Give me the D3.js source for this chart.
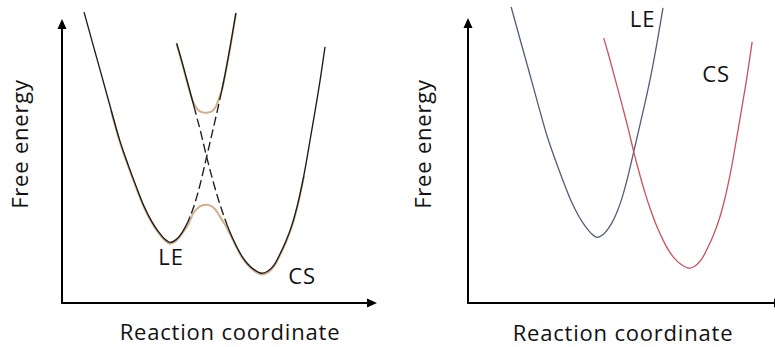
<!DOCTYPE html>
<html>
<head>
<meta charset="utf-8">
<script src="https://cdn.jsdelivr.net/npm/d3@7"></script>
<style>
  html, body { margin: 0; padding: 0; background: #fff; }
  svg { display: block; }
  text { font-family: "Open Sans", sans-serif; fill: #111; letter-spacing: 0.8px; }
</style>
</head>
<body>
<svg id="chart" width="775" height="347"></svg>
<script>
// Diabatic free-energy curves: [reaction coordinate, free energy]
const leCurve = [
  [0.70, 10.28], [0.98, 9.15], [1.27, 7.99], [1.56, 6.82], [1.84, 5.72], [2.10, 4.88],
  [2.35, 4.13], [2.60, 3.43], [2.86, 2.86], [3.05, 2.54], [3.24, 2.28], [3.43, 2.14],
  [3.62, 2.24], [3.81, 2.49], [4.00, 2.88], [4.19, 3.43], [4.38, 4.17], [4.59, 5.16],
  [4.76, 5.97], [4.95, 6.89], [5.14, 7.88], [5.33, 9.01], [5.52, 10.25]
];
const csCurve = [
  [3.64, 9.18], [3.81, 8.52], [4.00, 7.74], [4.22, 6.82], [4.41, 6.01], [4.59, 5.17],
  [4.76, 4.45], [4.95, 3.71], [5.14, 3.07], [5.33, 2.51], [5.52, 2.05], [5.71, 1.66],
  [5.90, 1.38], [6.10, 1.18], [6.34, 1.05], [6.54, 1.13], [6.73, 1.34], [6.92, 1.73],
  [7.11, 2.19], [7.30, 2.76], [7.49, 3.53], [7.68, 4.52], [7.87, 5.72], [8.06, 6.96],
  [8.19, 7.84], [8.35, 9.05]
];
// Adiabatic (coupled) surfaces: lower and upper branch
const lowerAdiabatic = [
  [1.56, 6.82], [1.84, 5.72], [2.10, 4.88], [2.35, 4.13], [2.60, 3.43], [2.86, 2.86],
  [3.05, 2.54], [3.24, 2.28], [3.43, 2.14], [3.62, 2.24], [3.81, 2.49], [4.00, 2.81],
  [4.16, 3.20], [4.32, 3.41], [4.46, 3.50], [4.59, 3.52], [4.73, 3.48], [4.86, 3.36],
  [4.98, 3.16], [5.11, 2.93], [5.24, 2.69], [5.40, 2.33], [5.52, 2.05], [5.71, 1.66],
  [5.90, 1.38], [6.10, 1.18], [6.34, 1.05], [6.54, 1.13], [6.73, 1.34], [6.92, 1.73],
  [7.11, 2.19], [7.30, 2.76], [7.49, 3.53], [7.68, 4.52]
];
const upperAdiabatic = [
  [3.64, 9.18], [3.81, 8.52], [4.00, 7.74], [4.16, 7.16], [4.29, 6.91], [4.41, 6.80],
  [4.59, 6.77], [4.76, 6.82], [4.89, 7.00], [4.98, 7.28], [5.08, 7.58], [5.14, 7.88],
  [5.33, 9.01], [5.52, 10.25]
];
// Stretch of each diabatic curve drawn dashed (between the two adiabatic branches)
const leDashed = [4.06, 5.05];
const csDashed = [4.22, 5.24];

const stateNames = ["LE", "CS"];
const axisTitles = ["Reaction coordinate", "Free energy"];

const svg = d3.select("#chart");

// Each panel has its own scales; the axes start at the lower-left of the range
const panels = [
  { x: d3.scaleLinear().domain([0, 10]).range([62, 377]),
    y: d3.scaleLinear().domain([0, 10]).range([303, 20]),
    xAxisEnd: 377, yAxisTop: 19 },
  { x: d3.scaleLinear().domain([-0.67, 9.33]).range([468, 783]),
    y: d3.scaleLinear().domain([-0.18, 9.82]).range([303, 20]),
    xAxisEnd: 784, yAxisTop: 18 }
];

const defs = svg.append("defs");

function lineFor(p) {
  return d3.line().x(d => p.x(d[0])).y(d => p.y(d[1])).curve(d3.curveCatmullRom.alpha(0.5));
}

function drawAxes(g, p) {
  const x0 = p.x.range()[0], y0 = p.y.range()[0];
  g.append("line").attr("x1", x0).attr("y1", y0).attr("x2", x0).attr("y2", p.yAxisTop + 8)
    .attr("stroke", "#000").attr("stroke-width", 2);
  g.append("path")
    .attr("d", `M${x0},${p.yAxisTop} L${x0 - 4.5},${p.yAxisTop + 10} L${x0 + 4.5},${p.yAxisTop + 10} Z`)
    .attr("fill", "#000");
  g.append("line").attr("x1", x0 - 1).attr("y1", y0).attr("x2", p.xAxisEnd - 8).attr("y2", y0)
    .attr("stroke", "#000").attr("stroke-width", 2);
  g.append("path")
    .attr("d", `M${p.xAxisEnd},${y0} L${p.xAxisEnd - 10},${y0 - 4.5} L${p.xAxisEnd - 10},${y0 + 4.5} Z`)
    .attr("fill", "#000");
}

// ---- Left panel: coupled states ----
const pL = panels[0];
const gL = svg.append("g");
drawAxes(gL, pL);
const lineL = lineFor(pL);

// adiabatic surfaces in tan, sitting just under the diabatic lines
gL.selectAll("path.adiabatic")
  .data([lowerAdiabatic, upperAdiabatic])
  .join("path")
  .attr("class", "adiabatic")
  .attr("d", lineL)
  .attr("transform", "translate(0,1.3)")
  .attr("fill", "none")
  .attr("stroke", "#d3b08a")
  .attr("stroke-width", 2)
  .attr("stroke-linecap", "round");

// diabatic curves: solid outside the avoided-crossing band, dashed inside
[[leCurve, leDashed, "le"], [csCurve, csDashed, "cs"]].forEach(([curve, band, id]) => {
  const xa = pL.x(band[0]), xb = pL.x(band[1]);
  const solid = defs.append("clipPath").attr("id", `solid-${id}`);
  solid.append("rect").attr("x", 0).attr("y", 0).attr("width", xa).attr("height", 347);
  solid.append("rect").attr("x", xb).attr("y", 0).attr("width", 775 - xb).attr("height", 347);
  defs.append("clipPath").attr("id", `dash-${id}`)
    .append("rect").attr("x", xa).attr("y", 0).attr("width", xb - xa).attr("height", 347);

  gL.append("path").datum(curve).attr("d", lineL)
    .attr("clip-path", `url(#solid-${id})`)
    .attr("fill", "none").attr("stroke", "#1c1c1c").attr("stroke-width", 1.35);
  gL.append("path").datum(curve).attr("d", lineL)
    .attr("clip-path", `url(#dash-${id})`)
    .attr("fill", "none").attr("stroke", "#1c1c1c").attr("stroke-width", 1.35)
    .attr("stroke-dasharray", "9,4");
});

// ---- Right panel: uncoupled states ----
const pR = panels[1];
const gR = svg.append("g");
drawAxes(gR, pR);
const lineR = lineFor(pR);
gR.append("path").datum(leCurve).attr("d", lineR)
  .attr("fill", "none").attr("stroke", "#505d7a").attr("stroke-width", 1.3);
gR.append("path").datum(csCurve).attr("d", lineR)
  .attr("fill", "none").attr("stroke", "#c8525c").attr("stroke-width", 1.3);

// ---- Text ----
const fs = 22;
function yTitle(x, y) {
  svg.append("text").attr("transform", `translate(${x},${y}) rotate(-90)`)
    .attr("text-anchor", "middle").attr("font-size", fs).text(axisTitles[1]);
}
function xTitle(x, y) {
  svg.append("text").attr("x", x).attr("y", y)
    .attr("text-anchor", "middle").attr("font-size", fs).text(axisTitles[0]);
}
yTitle(28, 144);
yTitle(431, 144);
xTitle(230, 340);
xTitle(623, 341);

function stateLabel(name, x, y) {
  svg.append("text").attr("x", x).attr("y", y)
    .attr("text-anchor", "middle").attr("font-size", fs).text(name);
}
stateLabel(stateNames[0], 171, 265);
stateLabel(stateNames[1], 302, 284);
stateLabel(stateNames[0], 642.5, 27);
stateLabel(stateNames[1], 716, 82);
</script>
</body>
</html>
